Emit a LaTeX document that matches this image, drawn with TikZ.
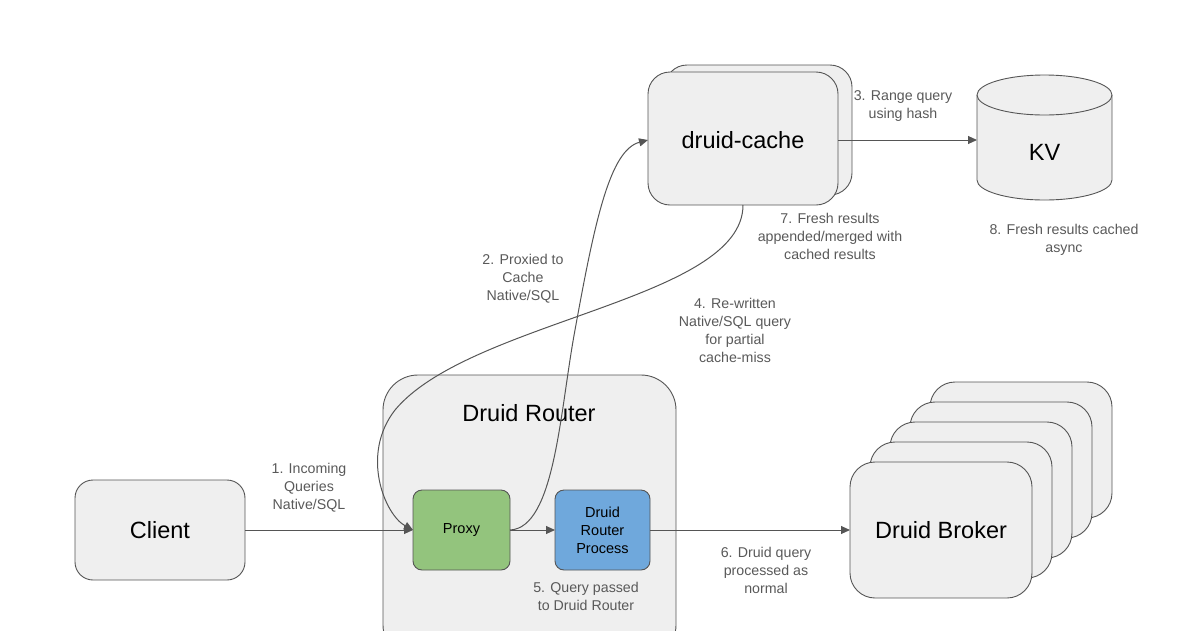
\documentclass[tikz,border=0pt]{standalone}
\usepackage{fontspec}
\setmainfont{Liberation Sans}
\usetikzlibrary{shapes.geometric,arrows.meta}
\definecolor{boxfill}{HTML}{EFEFEF}
\definecolor{linec}{HTML}{555555}
\definecolor{labc}{HTML}{595959}
\definecolor{green1}{HTML}{93C47D}
\definecolor{blue1}{HTML}{6FA8DC}
\begin{document}
\begin{tikzpicture}[x=1pt,y=-1pt,
  box/.style={draw=linec,fill=boxfill,rounded corners=18pt,line width=0.9pt},
  big/.style={font=\fontsize{23.5}{28}\selectfont},
  conn/.style={draw=linec,line width=1pt,-{Triangle[length=9pt,width=8pt]}},
  lab/.style={text=labc,font=\fontsize{14.2}{18}\selectfont,align=center}]
\useasboundingbox (0,0) rectangle (1200,630);
% druid router
\begin{scope}
\clip (0,0) rectangle (1200,630);
\draw[box,rounded corners=35pt] (383,375) rectangle (676,660);
\end{scope}
\node[big] (rt) at (529,413) {Druid Router};
% client
\draw[box] (75,480) rectangle (245,580);
\node[big] (client) at (160,530) {Client};
\coordinate (clR) at (245,530);
% proxy
\draw[draw=linec,fill=green1,rounded corners=9pt,line width=0.9pt] (413,490) rectangle (510,570);
\node[font=\fontsize{14.5}{17}\selectfont] (proxy) at (461.5,530) {Proxy};
\coordinate (pxL) at (413,530);
\coordinate (pxR) at (510,530);
% drp
\draw[draw=linec,fill=blue1,rounded corners=9pt,line width=0.9pt] (555,490) rectangle (650,570);
\node[font=\fontsize{14.5}{18}\selectfont,align=center] (drp) at (602.5,530) {Druid\\Router\\Process};
\coordinate (drL) at (555,530);
\coordinate (drR) at (650,530);
% brokers
\foreach \i in {4,3,2,1} {
  \draw[box,rounded corners=25pt] (850+20*\i,462-20*\i) rectangle (1032+20*\i,598-20*\i);
}
\draw[box,rounded corners=25pt] (850,462) rectangle (1032,598);
\node[big] (broker) at (941,530) {Druid Broker};
\coordinate (brL) at (850,530);
% druid-cache
\draw[box,rounded corners=22pt] (665,65) rectangle (852,195);
\draw[box,rounded corners=22pt] (648,72) rectangle (838,205);
\node[big] (cache) at (743,140) {druid-cache};
\coordinate (caL) at (648,140);
\coordinate (caR) at (838,140);
\coordinate (caB) at (743,205);
% KV cylinder
\draw[draw=linec,fill=boxfill,line width=0.9pt] (977,95) -- (977,180) arc (180:0:67.5 and 20) -- (1112,95) arc (0:-180:67.5 and 20) -- cycle;
\draw[draw=linec,line width=0.9pt] (977,95) arc (180:0:67.5 and 20);
\node[big] (kv) at (1044.5,152) {KV};
\coordinate (kvL) at (977,140);
% connectors
\draw[conn] (clR) -- (pxL);
\draw[conn] (pxR) -- (drL);
\draw[conn] (drR) -- (brL);
\draw[conn] (caR) -- (kvL);
\draw[conn] (pxR) .. controls (555,528) and (560,410) .. (575,330) .. controls (595,220) and (610,150) .. (caL);
\draw[conn] (caB) .. controls (743,300) and (470,320) .. (395,410) .. controls (360,455) and (385,515) .. (pxL);
% labels
\node[lab] (l1) at (309,488) {1. Incoming\\Queries\\Native/SQL};
\node[lab] (l2) at (523,279) {2. Proxied to\\Cache\\Native/SQL};
\node[lab] (l3) at (903,106) {3. Range query\\using hash};
\node[lab] (l4) at (735,330) {4. Re-written\\Native/SQL query\\for partial\\cache-miss};
\node[lab] (l5) at (586,596) {5. Query passed\\to Druid Router};
\node[lab] (l6) at (766,570) {6. Druid query\\processed as\\normal};
\node[lab] (l7) at (830,236) {7. Fresh results\\appended/merged with\\cached results};
\node[lab] (l8) at (1064,240) {8. Fresh results cached\\async};
\end{tikzpicture}
\end{document}
